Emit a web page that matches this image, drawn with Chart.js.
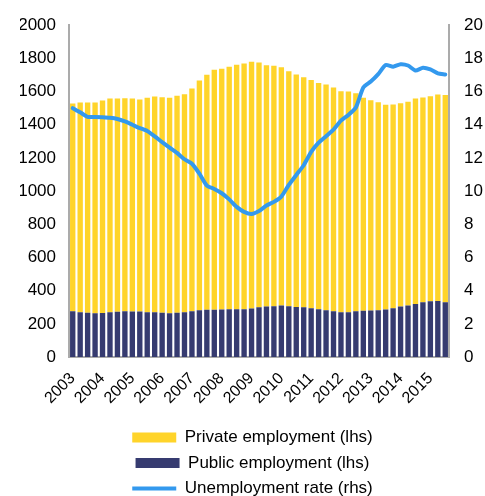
<!DOCTYPE html>
<html>
<head>
<meta charset="utf-8">
<script src="https://cdn.jsdelivr.net/npm/chart.js@4/dist/chart.umd.min.js"></script>
<style>
  html, body { margin: 0; padding: 0; background: #fff; }
  #wrap { width: 485px; height: 496px; position: relative; }
</style>
</head>
<body>
<div id="wrap"><canvas id="c" width="485" height="496"></canvas></div>
<script>
// Categories: quarters 2003 Q1 .. 2015 Q3
const years = [2003, 2004, 2005, 2006, 2007, 2008, 2009, 2010, 2011, 2012, 2013, 2014, 2015];
const quarters = ['Q1', 'Q2', 'Q3', 'Q4'];
const categories = years.flatMap(y => quarters.map(q => y + ' ' + q)).slice(0, 51);

// Public employment (lhs, thousands)
const publicEmployment = [
  276, 270, 266, 263, 265, 270, 273, 276, 275, 274, 270, 270, 266, 263, 266, 270,
  276, 282, 285, 285, 287, 288, 288, 288, 292, 300, 304, 306, 310, 306, 302, 300,
  294, 288, 282, 276, 270, 270, 276, 279, 281, 282, 287, 294, 304, 310, 320, 330,
  336, 338, 330
];
// Private employment (lhs, thousands)
const privateEmployment = [
  1252, 1264, 1268, 1271, 1281, 1288, 1285, 1284, 1283, 1278, 1292, 1300, 1300, 1299, 1308, 1314,
  1342, 1384, 1416, 1446, 1450, 1461, 1473, 1481, 1487, 1475, 1455, 1449, 1437, 1417, 1401, 1387,
  1375, 1363, 1360, 1348, 1332, 1330, 1314, 1283, 1267, 1254, 1233, 1228, 1226, 1228, 1238, 1234,
  1236, 1244, 1250
];
// Unemployment rate (rhs, %)
const unemploymentRate = [
  15.0, 14.75, 14.47, 14.47, 14.45, 14.42, 14.35, 14.2, 14.0, 13.8, 13.62, 13.3, 12.95, 12.62, 12.3, 11.92,
  11.65, 11.05, 10.33, 10.13, 9.87, 9.5, 9.05, 8.75, 8.62, 8.8, 9.13, 9.35, 9.67, 10.37, 10.97, 11.56,
  12.36, 12.92, 13.31, 13.71, 14.25, 14.59, 15.04, 16.24, 16.6, 17.05, 17.6, 17.5, 17.65, 17.57, 17.27, 17.43,
  17.33, 17.1, 17.03
];
const lhsTicks = { min: 0, max: 2000, step: 200 };
const rhsTicks = { min: 0, max: 20, step: 2 };

const FONT = "'Liberation Sans', Arial, sans-serif";
const AXIS_COLOR = '#ABABAB';

const legendRank = { 2: 0, 1: 1, 0: 2 };

new Chart(document.getElementById('c'), {
  data: {
    labels: categories,
    datasets: [
      {
        type: 'line',
        label: 'Unemployment rate (rhs)',
        data: unemploymentRate,
        yAxisID: 'y2',
        borderColor: '#3399EE',
        backgroundColor: '#3399EE',
        borderWidth: 4,
        borderCapStyle: 'round',
        borderJoinStyle: 'round',
        pointRadius: 0,
        pointStyle: 'line',
        tension: 0.2
      },
      {
        type: 'bar',
        label: 'Public employment (lhs)',
        data: publicEmployment,
        yAxisID: 'y',
        backgroundColor: '#363B70',
        pointStyle: 'rect',
        barPercentage: 0.72,
        categoryPercentage: 1.0
      },
      {
        type: 'bar',
        label: 'Private employment (lhs)',
        data: privateEmployment,
        yAxisID: 'y',
        backgroundColor: '#FFD42A',
        pointStyle: 'rect',
        barPercentage: 0.72,
        categoryPercentage: 1.0
      }
    ]
  },
  options: {
    responsive: false,
    animation: false,
    devicePixelRatio: 1,
    layout: { padding: { left: 20, top: 22, right: 0, bottom: -11 } },
    plugins: {
      tooltip: { enabled: false },
      legend: {
        position: 'bottom',
        labels: {
          sort: (a, b) => legendRank[a.datasetIndex] - legendRank[b.datasetIndex],
          usePointStyle: true,
          pointStyleWidth: 44,
          boxHeight: 10,
          padding: 8.5,
          color: '#000',
          font: { family: FONT, size: 17 }
        }
      }
    },
    scales: {
      x: {
        stacked: true,
        grid: { display: false, drawTicks: false },
        border: { display: true, color: AXIS_COLOR, width: 2 },
        ticks: {
          autoSkip: false,
          minRotation: 45,
          maxRotation: 45,
          padding: 12,
          color: '#000',
          font: { family: FONT, size: 16 },
          callback: function (v, i) { return i % 4 === 0 ? categories[i].slice(0, 4) : null; }
        },
        afterFit: s => { s.height = 63.5; }
      },
      y: {
        stacked: true,
        position: 'left',
        min: lhsTicks.min,
        max: lhsTicks.max,
        grid: { display: false, drawTicks: false },
        border: { display: true, color: AXIS_COLOR, width: 2 },
        ticks: {
          stepSize: lhsTicks.step,
          padding: 13,
          color: '#000',
          font: { family: FONT, size: 17 },
          callback: v => String(v)
        },
        afterFit: s => { s.width = 49; }
      },
      y2: {
        position: 'right',
        min: rhsTicks.min,
        max: rhsTicks.max,
        grid: { display: false, drawTicks: false },
        border: { display: true, color: AXIS_COLOR, width: 2 },
        ticks: {
          stepSize: rhsTicks.step,
          padding: 15,
          color: '#000',
          font: { family: FONT, size: 17 },
          callback: v => String(v)
        },
        afterFit: s => { s.width = 36; }
      }
    }
  }
});
</script>
</body>
</html>
